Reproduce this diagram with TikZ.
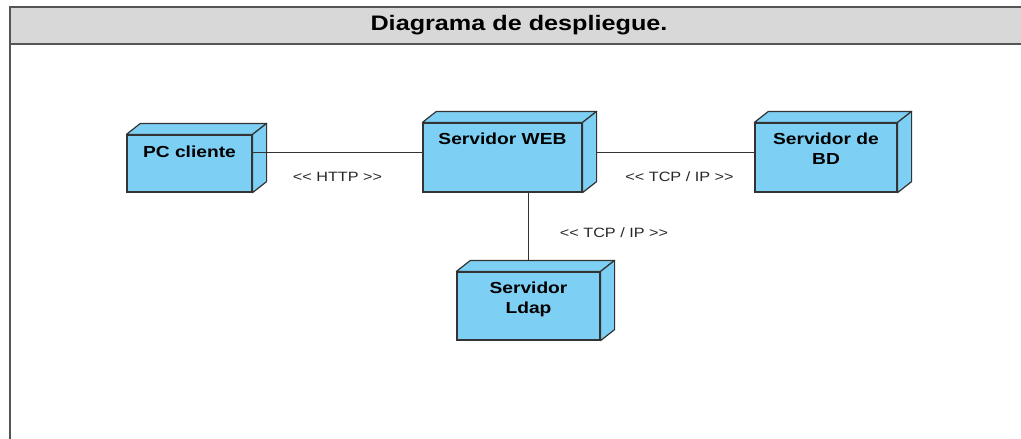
\documentclass[tikz,border=0pt]{standalone}
\usepackage{fontspec}
\setmainfont{Liberation Sans}
\newfontfamily\diagfont[FakeStretch=1.2]{Liberation Sans}
\usetikzlibrary{arrows}
\definecolor{nodeblue}{RGB}{126,207,244}
\definecolor{framegray}{RGB}{85,85,85}
\definecolor{titlegray}{RGB}{216,216,216}
\definecolor{edgegray}{RGB}{51,51,51}
\tikzstyle{device} = [draw=edgegray,fill=nodeblue,line width=1.2pt,rectangle,inner sep=0pt]
\tikzstyle{devlabel} = [anchor=north,inner sep=0pt,yshift=-10pt,align=center,
                        font=\diagfont\bfseries\fontsize{16}{20}\selectfont]
\tikzstyle{face} = [draw=edgegray,fill=nodeblue,line width=1.2pt,line join=round]
\tikzstyle{frame} = [draw=framegray,line width=2pt]
\tikzstyle{line} = [draw=edgegray,line width=1pt]
\tikzstyle{stereo} = [font=\diagfont\fontsize{13.5}{16}\selectfont,text=black!85,inner sep=0pt]
\def\dx{14}
\def\dy{11}
% top and side faces of a device node
\newcommand{\devicefaces}[1]{%
  \filldraw[face] (#1.north west) -- ++(\dx,-\dy) -- ([shift={(\dx,-\dy)}]#1.north east) -- (#1.north east) -- cycle;
  \filldraw[face] (#1.north east) -- ++(\dx,-\dy) -- ([shift={(\dx,-\dy)}]#1.south east) -- (#1.south east) -- cycle;}

\begin{document}
\begin{tikzpicture}[x=1pt, y=-1pt, >=stealth']
    \clip (0,0) rectangle (1021,439);
    % frame with title band
    \fill[titlegray] (10,7) rectangle (1030,44);
    \draw[frame] (1030,7) -- (10,7) -- (10,450);
    \draw[frame] (10,44) -- (1030,44);
    \node[font=\diagfont\bfseries\fontsize{21}{24}\selectfont] (title) at (519,25) {Diagrama de despliegue.};
    % devices
    \node[device, minimum width=125pt, minimum height=57pt,
          label={[devlabel, yshift=-1pt]north:PC cliente}] (pc) at (189.5,163.5) {};
    \node[device, minimum width=159pt, minimum height=69pt,
          label={[devlabel]north:Servidor WEB}] (web) at (502.5,157.5) {};
    \node[device, minimum width=142pt, minimum height=69pt,
          label={[devlabel]north:{Servidor de\\BD}}] (bd) at (826,157.5) {};
    \node[device, minimum width=143pt, minimum height=68pt,
          label={[devlabel]north:{Servidor\\Ldap}}] (ldap) at (528.5,306) {};
    \devicefaces{pc}
    \devicefaces{web}
    \devicefaces{bd}
    \devicefaces{ldap}
    % now link the nodes
    \draw[line] ([yshift=11.5pt]pc.east) -- node[stereo, yshift=-25pt] {<< HTTP >>} ([yshift=5.5pt]web.west);
    \draw[line] ([xshift=14pt,yshift=5.5pt]web.east) -- node[stereo, xshift=4pt, yshift=-25pt] {<< TCP / IP >>} ([yshift=5.5pt]bd.west);
    \draw[line] ([xshift=26pt]web.south) -- node[stereo, xshift=85.5pt, yshift=-6.5pt] {<< TCP / IP >>} ([yshift=11pt]ldap.north);
\end{tikzpicture}
\end{document}
